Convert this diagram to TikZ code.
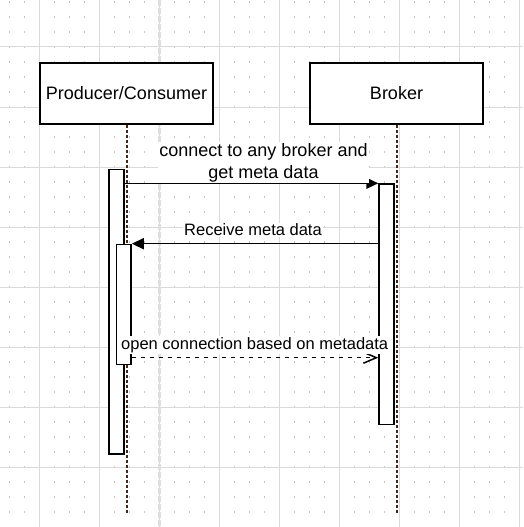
\documentclass[tikz,border=0pt]{standalone}
\usepackage{fontspec}
\setmainfont{Liberation Sans}
\usetikzlibrary{arrows.meta}
\definecolor{gridline}{RGB}{218,218,218}
\definecolor{griddot}{RGB}{195,195,195}
\definecolor{pageline}{RGB}{222,222,222}
\definecolor{lifeln}{RGB}{65,38,28}
\tikzset{
  actorbox/.style={draw=black, fill=white, line width=1.5pt, minimum width=173pt, minimum height=61pt, inner sep=0pt, font=\fontsize{18}{21.6}\selectfont},
  actbox/.style={draw=black, fill=white, line width=1.5pt, anchor=north west, inner sep=0pt},
  lifeline/.style={draw=lifeln, line width=1.8pt, dash pattern=on 3pt off 2pt},
  msgsolid/.style={draw=black, line width=1.5pt, -{Triangle[length=12pt,width=11pt]}},
  msgdash/.style={draw=black, line width=1.5pt, dash pattern=on 4.5pt off 4.5pt, -{Straight Barb[length=13pt,width=11pt,line width=1.5pt]}},
  msglabel/.style={fill=white, inner sep=1pt, align=center, font=\fontsize{16.5}{22}\selectfont},
  gridln/.style={draw=gridline, line width=1pt},
  pagebrk/.style={draw=pageline, line width=3pt, dash pattern=on 6pt off 2pt}
}
\begin{document}
\begin{tikzpicture}[x=1pt,y=-1pt]
\useasboundingbox (0,0) rectangle (523,527);
\fill[white] (0,0) rectangle (523,527);
% grid dots
\foreach \i in {0,...,34} {
  \foreach \j in {0,...,34} {
    \fill[griddot] ({9.5+15*\i-0.6},{2+15*\j-0.6}) rectangle ++(1.2,1.2);
  }
}
% grid lines
\foreach \gx in {39.5,99.5,...,519.5} { \draw[gridln] (\gx,0) -- (\gx,527); }
\foreach \gy in {47,107,...,467} { \draw[gridln] (0,\gy) -- (523,\gy); }
\draw[pagebrk] (159.5,0) -- (159.5,527);

% actors
\node[actorbox] (pc) at (126.5,93.5) {Producer/Consumer};
\node[actorbox] (br) at (396.5,93.5) {Broker};
\coordinate (pcend) at (126.7,513);
\coordinate (brend) at (397,513);
\draw[lifeline] (pc.south -| pcend) -- (pcend);
\draw[lifeline] (br.south -| brend) -- (brend);

% activation boxes
\node[actbox, minimum width=15pt, minimum height=284.6pt] (a1) at (108.3,168.7) {};
\node[actbox, minimum width=14.6pt, minimum height=120pt] (a2) at (115.7,243.7) {};
\node[actbox, minimum width=15pt, minimum height=240.4pt] (b1) at (378.3,183.3) {};

% messages
\coordinate (m3) at (0,357.7);
\draw[msgsolid] (a1.east |- b1.north west) -- (b1.north west);
\draw[msgsolid] (b1.west |- a2.north east) -- (a2.north east);
\draw[msgdash] (a2.east |- m3) -- (b1.west |- m3);

% labels
\node[msglabel, font=\fontsize{18}{22}\selectfont] (l1) at (263.5,162.4) {connect to any broker and\\get meta data};
\node[msglabel, anchor=base] (l2) at (253,235.7) {Receive meta data};
\node[msglabel, anchor=base] (l3) at (254.7,349.3) {open connection based on metadata};
\end{tikzpicture}
\end{document}
